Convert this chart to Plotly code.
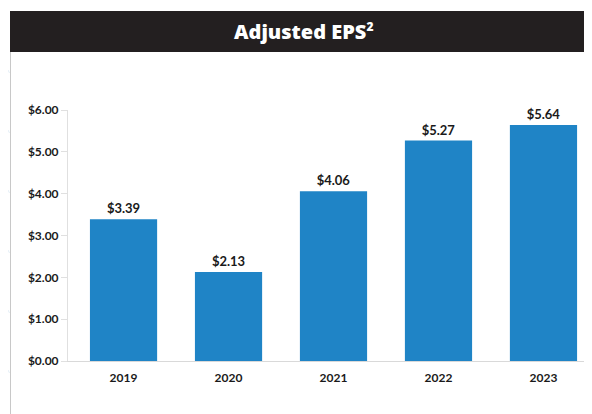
import plotly.graph_objects as go

years = ["2019", "2020", "2021", "2022", "2023"]
eps = [3.39, 2.13, 4.06, 5.27, 5.64]
eps_labels = ["$3.39", "$2.13", "$4.06", "$5.27", "$5.64"]
title_text = "Adjusted EPS<sup><span style='font-size:12px'>2</span></sup>"

# page body has an 8px margin; build the figure so it lands in place
OFF = 8
W, H = 592 - OFF, 414 - OFF
L, R, T, B = 68 - OFF, 6, 110 - OFF, 53
pw, ph = W - L - R, H - T - B

def px(x):
    return (x - OFF - L) / pw

def py(y):
    return (H - B - (y - OFF)) / ph

fig = go.Figure(go.Bar(
    x=years, y=eps, text=eps_labels, textposition="outside",
    marker=dict(color="#1f84c6", line=dict(width=0)),
    width=0.64, cliponaxis=False,
    textfont=dict(family="Lato", size=13, color="#1a1a1a", weight="bold"),
    hoverinfo="skip",
))

shapes = []
deco = "#e3eef6"
for y0 in [70, 130, 190, 250, 310, 370]:
    shapes.append(dict(type="line", xref="paper", yref="paper",
                       x0=px(8), y0=py(y0), x1=px(9.5), y1=py(y0 + 3),
                       line=dict(color=deco, width=1), layer="below"))
# header bar
shapes.append(dict(type="rect", xref="paper", yref="paper",
                   x0=px(10), x1=px(592), y0=py(52), y1=py(11),
                   fillcolor="#231f20", line=dict(width=0), layer="above"))
# left frame line
shapes.append(dict(type="line", xref="paper", yref="paper",
                   x0=px(10.5), x1=px(10.5), y0=py(52), y1=py(414),
                   line=dict(color="#c8c8c8", width=1)))

fig.update_layout(
    width=W, height=H,
    margin=dict(l=L, r=R, t=T, b=B),
    paper_bgcolor="white", plot_bgcolor="white",
    showlegend=False,
    shapes=shapes,
    annotations=[dict(text=title_text, xref="paper", yref="paper",
                      x=px(303), y=py(31), showarrow=False,
                      xanchor="center", yanchor="middle",
                      font=dict(family="Open Sans", size=20, color="white", weight=800))],
    xaxis=dict(range=[-0.529, 4.405], showline=True, linecolor="#d9d9d9", linewidth=1,
               ticks="", showgrid=False, zeroline=False, ticklabelstandoff=6,
               tickfont=dict(family="Lato", size=12, color="#1a1a1a", weight="bold")),
    yaxis=dict(range=[0, 6], dtick=1, tickprefix="$", tickformat=".2f",
               showline=True, linecolor="#e0e0e0", linewidth=1,
               ticks="outside", ticklen=6, tickcolor="#e0e0e0",
               showgrid=False, zeroline=False,
               tickfont=dict(family="Lato", size=12, color="#1a1a1a", weight="bold")),
    bargap=0.36,
)

fig.write_html("out.html")
